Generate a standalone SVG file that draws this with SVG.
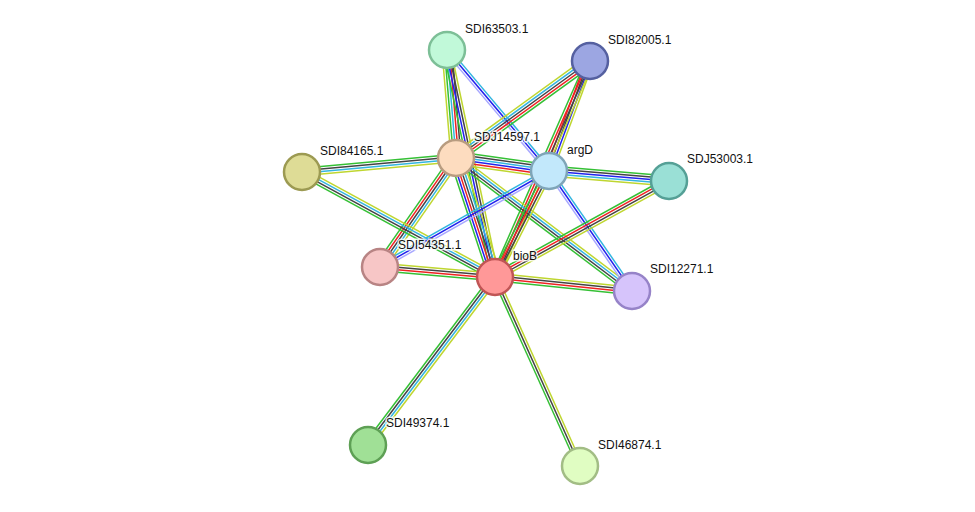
<svg xmlns="http://www.w3.org/2000/svg" width="975" height="512" viewBox="0 0 975 512">
<style>
line{stroke-width:1.5;fill:none}
.g{stroke:#35c035}.r{stroke:#ee2222}.b{stroke:#2222ee}.k{stroke:#444}.c{stroke:#33b5e0}.y{stroke:#bfd630}.l{stroke:#a8a8ff}
circle{stroke-width:2.5}
text{font-family:"Liberation Sans",Arial,sans-serif;font-size:12px;fill:#111;stroke:#fff;stroke-width:3;stroke-opacity:0.8;paint-order:stroke}
</style>
<rect width="975" height="512" fill="#fff"/>
<g id="edges">
<g transform="translate(447,50) rotate(85.24)"><line x2="108.4" y1="-5" y2="-5" class="k"/><line x2="108.4" y1="-2.5" y2="-2.5" class="r"/><line x2="108.4" class="c"/><line x2="108.4" y1="2.5" y2="2.5" class="g"/><line x2="108.4" y1="5" y2="5" class="y"/></g>
<g transform="translate(447,50) rotate(49.87)"><line x2="158.3" y1="-2.5" y2="-2.5" class="c"/><line x2="158.3" class="b"/><line x2="158.3" y1="2.5" y2="2.5" class="l"/></g>
<g transform="translate(447,50) rotate(78.06)"><line x2="232" y1="-3.75" y2="-3.75" class="y"/><line x2="232" y1="-1.25" y2="-1.25" class="k"/><line x2="232" y1="1.25" y2="1.25" class="b"/><line x2="232" y1="3.75" y2="3.75" class="g"/></g>
<g transform="translate(590,61) rotate(144.1)"><line x2="165.4" y1="-5" y2="-5" class="g"/><line x2="165.4" y1="-2.5" y2="-2.5" class="r"/><line x2="165.4" class="k"/><line x2="165.4" y1="2.5" y2="2.5" class="c"/><line x2="165.4" y1="5" y2="5" class="y"/></g>
<g transform="translate(590,61) rotate(110.44)"><line x2="117.4" y1="-3.75" y2="-3.75" class="y"/><line x2="117.4" y1="-1.25" y2="-1.25" class="b"/><line x2="117.4" y1="1.25" y2="1.25" class="k"/><line x2="117.4" y1="3.75" y2="3.75" class="r"/></g>
<g transform="translate(590,61) rotate(113.74)"><line x2="236" y1="-3.75" y2="-3.75" class="y"/><line x2="236" y1="-1.25" y2="-1.25" class="k"/><line x2="236" y1="1.25" y2="1.25" class="r"/><line x2="236" y1="3.75" y2="3.75" class="g"/></g>
<g transform="translate(302,172) rotate(-5.19)"><line x2="154.6" y1="-3.75" y2="-3.75" class="g"/><line x2="154.6" y1="-1.25" y2="-1.25" class="k"/><line x2="154.6" y1="1.25" y2="1.25" class="c"/><line x2="154.6" y1="3.75" y2="3.75" class="y"/></g>
<g transform="translate(456,158) rotate(7.96)"><line x2="93.9" y1="-6.25" y2="-6.25" class="g"/><line x2="93.9" y1="-3.75" y2="-3.75" class="k"/><line x2="93.9" y1="-1.25" y2="-1.25" class="c"/><line x2="93.9" y1="1.25" y2="1.25" class="b"/><line x2="93.9" y1="3.75" y2="3.75" class="r"/><line x2="93.9" y1="6.25" y2="6.25" class="y"/></g>
<g transform="translate(380,267) rotate(-55.11)"><line x2="132.9" y1="-5" y2="-5" class="g"/><line x2="132.9" y1="-2.5" y2="-2.5" class="r"/><line x2="132.9" class="k"/><line x2="132.9" y1="2.5" y2="2.5" class="c"/><line x2="132.9" y1="5" y2="5" class="y"/></g>
<g transform="translate(456,158) rotate(71.85)"><line x2="125.2" y1="-6.25" y2="-6.25" class="y"/><line x2="125.2" y1="-3.75" y2="-3.75" class="c"/><line x2="125.2" y1="-1.25" y2="-1.25" class="k"/><line x2="125.2" y1="1.25" y2="1.25" class="r"/><line x2="125.2" y1="3.75" y2="3.75" class="b"/><line x2="125.2" y1="6.25" y2="6.25" class="g"/></g>
<g transform="translate(456,158) rotate(37.08)"><line x2="220.6" y1="-3.75" y2="-3.75" class="y"/><line x2="220.6" y1="-1.25" y2="-1.25" class="c"/><line x2="220.6" y1="1.25" y2="1.25" class="k"/><line x2="220.6" y1="3.75" y2="3.75" class="g"/></g>
<g transform="translate(302,172) rotate(28.55)"><line x2="219.7" y1="-3.75" y2="-3.75" class="y"/><line x2="219.7" y1="-1.25" y2="-1.25" class="c"/><line x2="219.7" y1="1.25" y2="1.25" class="k"/><line x2="219.7" y1="3.75" y2="3.75" class="g"/></g>
<g transform="translate(380,267) rotate(-29.6)"><line x2="194.4" y1="-2.5" y2="-2.5" class="c"/><line x2="194.4" class="b"/><line x2="194.4" y1="2.5" y2="2.5" class="l"/></g>
<g transform="translate(495,277) rotate(-63)"><line x2="119" y1="-3.75" y2="-3.75" class="g"/><line x2="119" y1="-1.25" y2="-1.25" class="r"/><line x2="119" y1="1.25" y2="1.25" class="k"/><line x2="119" y1="3.75" y2="3.75" class="y"/></g>
<g transform="translate(549,171) rotate(55.33)"><line x2="145.9" y1="-2.5" y2="-2.5" class="c"/><line x2="145.9" class="b"/><line x2="145.9" y1="2.5" y2="2.5" class="l"/></g>
<g transform="translate(549,171) rotate(4.76)"><line x2="120.4" y1="-5" y2="-5" class="g"/><line x2="120.4" y1="-2.5" y2="-2.5" class="k"/><line x2="120.4" class="b"/><line x2="120.4" y1="2.5" y2="2.5" class="c"/><line x2="120.4" y1="5" y2="5" class="y"/></g>
<g transform="translate(495,277) rotate(-28.89)"><line x2="198.7" y1="-3.75" y2="-3.75" class="g"/><line x2="198.7" y1="-1.25" y2="-1.25" class="r"/><line x2="198.7" y1="1.25" y2="1.25" class="k"/><line x2="198.7" y1="3.75" y2="3.75" class="y"/></g>
<g transform="translate(380,267) rotate(4.97)"><line x2="115.4" y1="-3.75" y2="-3.75" class="y"/><line x2="115.4" y1="-1.25" y2="-1.25" class="k"/><line x2="115.4" y1="1.25" y2="1.25" class="r"/><line x2="115.4" y1="3.75" y2="3.75" class="g"/></g>
<g transform="translate(495,277) rotate(5.83)"><line x2="137.7" y1="-3.75" y2="-3.75" class="y"/><line x2="137.7" y1="-1.25" y2="-1.25" class="k"/><line x2="137.7" y1="1.25" y2="1.25" class="r"/><line x2="137.7" y1="3.75" y2="3.75" class="g"/></g>
<g transform="translate(368,445) rotate(-52.91)"><line x2="210.6" y1="-3.75" y2="-3.75" class="g"/><line x2="210.6" y1="-1.25" y2="-1.25" class="k"/><line x2="210.6" y1="1.25" y2="1.25" class="c"/><line x2="210.6" y1="3.75" y2="3.75" class="y"/></g>
<g transform="translate(495,277) rotate(65.78)"><line x2="207.2" y1="-2.5" y2="-2.5" class="y"/><line x2="207.2" class="k"/><line x2="207.2" y1="2.5" y2="2.5" class="g"/></g>
</g>
<g id="SDI63503.1"><circle cx="447" cy="50" r="18" fill="#c1f9d9" stroke="#7dbf97"/><text x="465" y="32.5">SDI63503.1</text></g>
<g id="SDI82005.1"><circle cx="590" cy="61" r="18" fill="#9ca6e2" stroke="#5560a0"/><text x="608" y="43.5">SDI82005.1</text></g>
<g id="SDJ14597.1"><circle cx="456" cy="158" r="18" fill="#fddcbf" stroke="#b89c80"/><text x="474" y="140.5">SDJ14597.1</text></g>
<g id="SDI84165.1"><circle cx="302" cy="172" r="18" fill="#dedc96" stroke="#9c9a52"/><text x="320" y="155">SDI84165.1</text></g>
<g id="argD"><circle cx="549" cy="171" r="18" fill="#c2e8fb" stroke="#7fa5b8"/><text x="567" y="154">argD</text></g>
<g id="SDJ53003.1"><circle cx="669" cy="181" r="18" fill="#9ae0d6" stroke="#55a096"/><text x="687" y="163">SDJ53003.1</text></g>
<g id="SDI54351.1"><circle cx="380" cy="267" r="18" fill="#f7c6c6" stroke="#b88484"/><text x="398" y="249">SDI54351.1</text></g>
<g id="bioB"><circle cx="495" cy="277" r="18" fill="#ff9898" stroke="#c05555"/><text x="513" y="260">bioB</text></g>
<g id="SDI12271.1"><circle cx="632" cy="291" r="18" fill="#d6c4fb" stroke="#9683c8"/><text x="650" y="273">SDI12271.1</text></g>
<g id="SDI49374.1"><circle cx="368" cy="445" r="18" fill="#a0e096" stroke="#5ea055"/><text x="386" y="427">SDI49374.1</text></g>
<g id="SDI46874.1"><circle cx="580" cy="466" r="18" fill="#e0fdc2" stroke="#a2bd85"/><text x="598" y="449">SDI46874.1</text></g>
</svg>
